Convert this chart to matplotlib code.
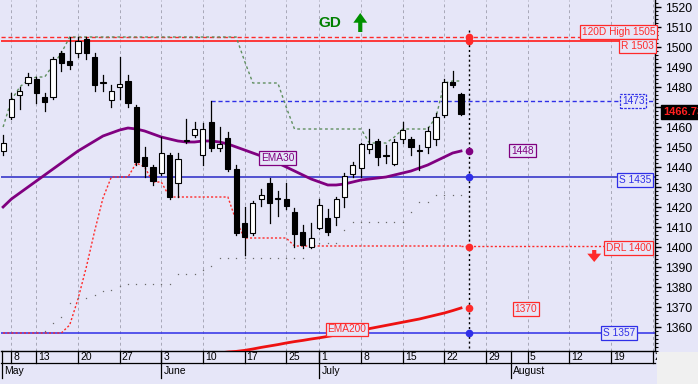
import matplotlib
matplotlib.use('Agg')
import matplotlib.pyplot as plt
from matplotlib.ticker import MultipleLocator
from matplotlib.patches import Rectangle
import matplotlib.transforms as mtransforms

plt.rcParams['font.family'] = ['Liberation Sans', 'DejaVu Sans']

# ---- data (trading-day index k, -1 = first visible candle) ----
days = list(range(-1, 55))
opens = [1448, 1465, 1476, 1482, 1484, 1475, 1475, 1497, 1493, 1497,
         1504, 1495, 1482, 1473.5, 1480, 1483, 1470, 1445, 1440, 1437,
         1446, 1432, 1453, 1456, 1446, 1462.5, 1449.5, 1454.5, 1439, 1412,
         1407, 1424, 1432, 1424.5, 1424, 1417.5, 1407.5, 1400, 1409.5, 1414.5,
         1415, 1425, 1436.5, 1439.5, 1449, 1453, 1446, 1441.5, 1454, 1454,
         1448, 1450, 1454, 1466, 1482.5, 1476.5]
highs = [1456, 1477, 1480, 1487, 1485, 1477, 1495, 1498, 1505, 1505,
         1505, 1497, 1486, 1481, 1495, 1486, 1471, 1450, 1441, 1455,
         1447, 1447, 1464, 1462.5, 1462, 1473, 1460, 1457.5, 1441, 1420,
         1423, 1429, 1434.5, 1428, 1432, 1419.5, 1411, 1412, 1424, 1419,
         1425, 1437, 1442.5, 1452, 1459, 1454, 1451, 1454, 1462.5, 1455,
         1451, 1460, 1467, 1484, 1488, 1477]
lows = [1446, 1464, 1469, 1481, 1472, 1468, 1474, 1488, 1489, 1495,
        1494, 1478, 1478, 1470, 1474, 1470, 1441, 1435, 1431, 1436,
        1424, 1425, 1452, 1455, 1441, 1448, 1448, 1438, 1406, 1396,
        1406, 1420.5, 1412, 1415.5, 1419, 1400, 1399.5, 1399.5, 1409, 1406,
        1411, 1420, 1435, 1435, 1447, 1441, 1442, 1441, 1452, 1446,
        1438.5, 1447, 1451, 1465, 1480, 1466]
closes = [1452, 1474, 1478, 1485, 1477, 1472.5, 1494, 1492, 1491, 1503,
          1497, 1481, 1482.3, 1478, 1481.5, 1472, 1442.5, 1440.5, 1433, 1447,
          1425, 1444, 1453.5, 1459, 1459, 1449.5, 1451.5, 1439, 1407, 1405,
          1422, 1426, 1422, 1424, 1420.5, 1406.5, 1401, 1404.5, 1421, 1407.5,
          1424, 1435.5, 1441, 1451.5, 1451.5, 1445, 1445.5, 1452.5, 1458.5, 1450,
          1448, 1458, 1465, 1482.5, 1481, 1466.73]

ema30 = [1420, 1424, 1427, 1430, 1433, 1436, 1439, 1442, 1445, 1448,
         1450.5, 1453, 1455.5, 1457, 1458.5, 1459.5, 1459, 1458, 1456.5, 1455,
         1454, 1453, 1452.5, 1452.5, 1453, 1453, 1452.5, 1451.5, 1450, 1448.5,
         1447, 1445.5, 1444, 1442, 1440, 1438, 1436, 1434, 1432.5, 1431,
         1431, 1431.5, 1432.5, 1433.5, 1434, 1434.5, 1435, 1436, 1437, 1438,
         1439.5, 1441, 1443, 1445, 1447, 1448]

ema200_days = list(range(24, 55))
ema200 = [1346.5, 1347, 1347.5, 1347.8, 1348.3, 1349, 1349.8, 1350.5, 1351.2, 1352,
          1352.7, 1353.3, 1354, 1354.6, 1355.3, 1356, 1356.8, 1357.6, 1358.4, 1359.2,
          1360, 1360.8, 1361.6, 1362.4, 1363.2, 1364, 1365, 1366, 1367, 1368.2, 1369.5]

# upper trailing line (green dashed)
trail_hi = [1460, 1473.5, 1480, 1483.5, 1485, 1485, 1491, 1497, 1505, 1505,
            1505, 1505, 1505, 1505, 1505, 1505, 1505, 1505, 1505, 1505,
            1505, 1505, 1505, 1505, 1505, 1505, 1505, 1505, 1505, 1493,
            1482, 1482, 1482, 1482, 1470, 1459, 1459, 1459, 1459, 1459,
            1459, 1459, 1459, 1459, 1452, 1452, 1452, 1455, 1459, 1459,
            1459, 1459, 1465, 1482, 1483, 1483]
# lower trailing line (red dotted, DRL)
trail_lo = [1357, 1357, 1357, 1357, 1357, 1357, 1357, 1357, 1361, 1374,
            1390, 1408, 1424.5, 1435, 1435, 1435, 1442, 1440, 1432.5, 1432.5,
            1425, 1425, 1425, 1425, 1425, 1425, 1425, 1425, 1413, 1404.5,
            1404.5, 1404.5, 1404.5, 1404.5, 1404.5, 1400.5, 1400.5, 1400.5, 1400.5, 1400.5,
            1400.5, 1400.5, 1400.5, 1400.5, 1400.5, 1400.5, 1400.5, 1400.5, 1400.5, 1400.5,
            1400.5, 1400.5, 1400.5, 1400.5, 1400.5, 1400.5]
# grey dotted stop
stop_days = list(range(4, 55))
stop_vals = [1358, 1362, 1365, 1372, 1374.5, 1374.5, 1376, 1378, 1378.5, 1380.5,
             1381.5, 1381.5, 1381.5, 1381.5, 1381.5, 1381.5, 1386.5, 1386.5, 1386.5, 1388.5,
             1390.5, 1394.5, 1394.5, 1394.5, 1394.5, 1394.5, 1394.5, 1394.5, 1394.5, 1394.5,
             1394.5, 1394.5, 1402, 1402, 1402, 1402, 1408.5, 1412.5, 1412.5, 1412.5,
             1412.5, 1412.5, 1412.5, 1412.5, 1417.5, 1422.5, 1422.5, 1426, 1426, 1426, 1426]

high_120d = 1505
resist = 1503
level_1473 = 1473
support_1 = 1435
support_2 = 1357
drl = 1400
last_close = 1466.73
marker_day = 55

price_ticks = list(range(1360, 1521, 10))
tick_days = [0, 3, 8, 13, 18, 23, 28, 33, 37, 42, 47, 52, 57, 62, 67, 72, 77]
tick_labels = ['8', '13', '20', '27', '3', '10', '17', '25', '1', '8', '15', '22',
               '29', '5', '12', '19', '2']
month_days = [-1.1, 18, 37, 60]
month_labels = ['May', 'June', 'July', 'August']

BG = '#e6e6f8'
RED = '#ff2a2a'
BLUE = '#2f2fe8'
SBLUE = '#5050d0'
PURPLE = '#800080'
GREEN = '#5f8f5f'

fig = plt.figure(figsize=(6.98, 3.84), dpi=100, facecolor=BG)
ax = fig.add_axes([1 / 698, 33 / 384, 654 / 698, 351 / 384])
ax.set_facecolor(BG)
ax.set_xlim(-1.25, 77.3)
ax.set_ylim(1348, 1523.5)

# vertical grid
for d in tick_days:
    ax.axvline(d, color='#a8a8b8', lw=0.7, ls=(0, (3, 3)), zorder=0)

# horizontal levels
ax.axhline(high_120d, color=RED, lw=1, ls=(0, (3, 2)), zorder=1)
ax.axhline(resist, color=RED, lw=1.3, zorder=1)
ax.plot([24, 77.3], [level_1473, level_1473], color=BLUE, lw=1, ls=(0, (3, 2)), zorder=1)
ax.axhline(support_1, color=SBLUE, lw=1.4, zorder=1)
ax.axhline(support_2, color=BLUE, lw=1.1, zorder=1)

# trailing lines
ax.plot(days, trail_hi, color=GREEN, lw=1, ls=(0, (2, 2)), zorder=2)
ax.plot(days, trail_lo, color=RED, lw=1, ls=(0, (1.5, 1.5)), zorder=2)
ax.plot([days[-1], 71.5], [trail_lo[-1], trail_lo[-1]], color=RED, lw=1,
        ls=(0, (1.5, 1.5)), zorder=2)
ax.plot(stop_days, stop_vals, ls='none', marker='s', ms=0.9, mew=0, color='#6a6a6a', zorder=2)

# moving averages
ax.plot(days, ema30, color=PURPLE, lw=2, zorder=3)
ax.plot(ema200_days, ema200, color='#ee1111', lw=2, zorder=3)

# candles
w = 0.62
for d, o, h, l, c in zip(days, opens, highs, lows, closes):
    ax.plot([d, d], [l, h], color='black', lw=0.9, zorder=4)
    bottom = min(o, c)
    height = max(abs(c - o), 0.5)
    face = 'white' if c >= o else 'black'
    ax.add_patch(Rectangle((d - w / 2, bottom), w, height, facecolor=face,
                           edgecolor='black', lw=0.8, zorder=5))

# marker column
ax.plot([marker_day, marker_day], [1508.5, 1348], color='black', lw=1,
        ls=(0, (1.5, 2)), zorder=6)
for val, col in [(high_120d, RED), (resist, RED), (ema30[-1], PURPLE),
                 (support_1, BLUE), (drl, RED), (ema200[-1], RED), (support_2, BLUE)]:
    ax.plot(marker_day, val, 'o', ms=4.5, color=col, zorder=7)


def tag(x, y, text, color, ls='-'):
    ax.text(x, y, text, color=color, fontsize=7.3, ha='center', va='center', zorder=8,
            bbox=dict(boxstyle='square,pad=0.18', fc=BG, ec=color, lw=0.9, ls=ls))


tag(72.9, 1507.6, '120D High 1505', RED)
tag(75.2, 1500.6, 'R 1503', RED)
tag(74.7, 1473, '1473', BLUE, ls=(0, (2, 1)))
tag(61.4, 1448.2, '1448', PURPLE)
tag(74.9, 1433.6, 'S 1435', BLUE)
tag(74.1, 1399.6, 'DRL 1400', RED)
tag(61.8, 1369, '1370', RED)
tag(73.0, 1357, 'S 1357', BLUE)
tag(32.0, 1444.5, 'EMA30', PURPLE)
tag(40.3, 1358.8, 'EMA200', RED)

# GD signal and arrows
ax.text(38.3, 1512, 'GD', color='#008000', fontsize=11, fontweight='bold',
        ha='center', va='center', zorder=8)
ax.annotate('', xy=(41.9, 1517), xytext=(41.9, 1507.5),
            arrowprops=dict(width=3, headwidth=10, headlength=7, color='#009000', lw=0),
            zorder=8)
ax.annotate('', xy=(70.0, 1392.5), xytext=(70.0, 1398.5),
            arrowprops=dict(width=3, headwidth=10, headlength=6, color=RED, lw=0),
            zorder=8)

# right price axis (1470 label sits under the last-price box)
ax.yaxis.tick_right()
ax.set_yticks(price_ticks)
ax.set_yticklabels(['' if p == 1470 else str(p) for p in price_ticks])
ax.yaxis.set_minor_locator(MultipleLocator(2))
ax.tick_params(axis='y', which='major', length=4, width=1, labelsize=8.8, pad=3)
ax.tick_params(axis='y', which='minor', length=2, width=0.8)
ax.set_xticks([])
for s in ['top', 'left']:
    ax.spines[s].set_visible(False)
ax.spines['right'].set_linewidth(1)
ax.spines['bottom'].set_linewidth(1)

fig.text(663 / 698, 1 - 112 / 384, f'{last_close:.2f}', color='#ff2020', fontsize=8,
         fontweight='bold', ha='left', va='center',
         bbox=dict(boxstyle='square,pad=0.2', fc='black', ec='black'))

# date rows
trans = mtransforms.blended_transform_factory(ax.transData, ax.transAxes)
row = -12 / 351
mrow = -27 / 351
ax.plot([-1.25, 77.3], [row, row], color='black', lw=0.9, transform=trans, clip_on=False)
for d, lab in zip(tick_days, tick_labels):
    ax.plot([d, d], [0, row], color='black', lw=0.9, transform=trans, clip_on=False)
    ax.text(d + 0.25, -6 / 351, lab, fontsize=7.5, ha='left', va='center',
            transform=trans, clip_on=False)
for d, lab in zip(month_days, month_labels):
    ax.plot([d, d], [0, mrow], color='black', lw=0.9, transform=trans, clip_on=False)
    ax.text(d + 0.25, -20 / 351, lab, fontsize=7.5, ha='left', va='center',
            transform=trans, clip_on=False)

fig.patches.append(Rectangle((657 / 698, 0), 41 / 698, 32 / 384, transform=fig.transFigure,
                             facecolor='#f0f0f0', edgecolor='none', zorder=0))

fig.savefig('out.png', dpi=100, facecolor=BG)
